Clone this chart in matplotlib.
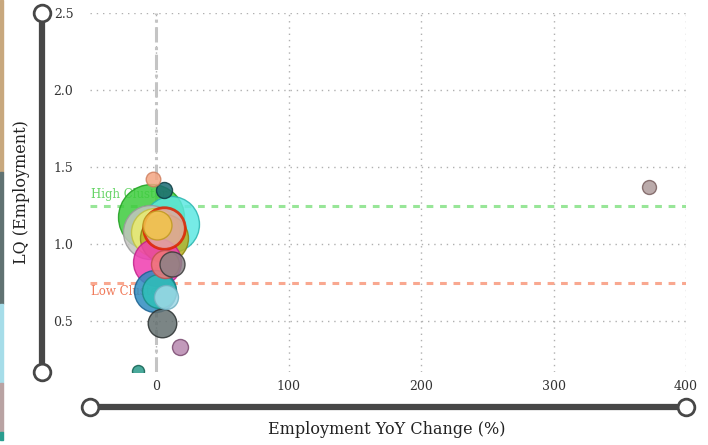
import matplotlib
matplotlib.use("Agg")
import matplotlib.pyplot as plt
import matplotlib.transforms as mtransforms
from matplotlib.patches import Rectangle

# Industry bubbles: employment YoY change (%), location quotient, bubble size
yoy_change = [-2.5, 6.0, -3.8, 11.3, -4.5, -0.8, 6.0, 0.4, 5.7, -1.1,
              2.3, 0.8, 4.3, 6.8, 12.0, 7.3, 18.1, -14.0, 372.0]
lq_employment = [1.42, 1.35, 1.175, 1.13, 1.078, 1.08, 1.04, 0.883, 1.106, 0.695,
                 0.695, 1.127, 0.49, 0.87, 0.87, 0.66, 0.33, 0.177, 1.37]
bubble_size = [110, 133, 2256, 1625, 1510, 1193, 1193, 1190, 896, 913,
               598, 435, 423, 406, 324, 298, 133, 75, 101]
face_colors = ["#f4a582", "#1b6b73", "#3dcc3d", "#5ee8e2", "#c4c4c0", "#ecec70",
               "#b8b020", "#f03cb0", "#e0a8a0", "#2f8cc0", "#2ec0b8", "#f2c44a",
               "#647070", "#f07878", "#8a8286", "#9fd9e6", "#b888b0", "#2a9a8a",
               "#b09c9c"]
edge_colors = ["#d08060", "#0d3d42", "#1e9e1e", "#2ab5b0", "#999999", "#c0c040",
               "#8a8410", "#c0208a", "#dd2200", "#1a6090", "#1a8a85", "#c09a20",
               "#2a3030", "#c05050", "#3a3a3a", "#70b0c0", "#7a4a70", "#106050",
               "#7a6060"]
edge_widths = [1, 1, 1, 1, 1, 1, 1, 1, 2, 1, 1, 1, 1, 1, 1, 1, 1, 1, 1]

high_cluster = 1.25
low_cluster = 0.75
x_ticks = [0, 100, 200, 300, 400]
y_ticks = [0.5, 1.0, 1.5, 2.0, 2.5]

SERIF = "DejaVu Serif"
AXIS_COLOR = "#474747"

fig = plt.figure(figsize=(7.08, 4.45), dpi=100)
ax = fig.add_axes([90 / 708, 1 - 372 / 445, 596 / 708, 359 / 445])

ax.set_xlim(-50, 400)
ax.set_ylim(0.17, 2.5)

# Gridlines
ax.set_xticks(x_ticks)
ax.set_yticks(y_ticks)
ax.grid(True, linestyle=(0, (1, 3.5)), color="#b0b0b0", linewidth=1.0, zorder=0)
ax.set_axisbelow(True)

# Zero line
ax.axvline(0, color="#c4c4c4", linewidth=2.2, linestyle=(0, (5, 1.5, 1, 1.5)), zorder=1)

# Cluster thresholds
ax.axhline(high_cluster, color="#98e698", linewidth=2.2, linestyle=(0, (2.2, 2.2)), zorder=1)
ax.axhline(low_cluster, color="#f9a890", linewidth=2.2, linestyle=(0, (2.2, 2.2)), zorder=1)
ax.text(-49.5, high_cluster + 0.03, "High Cluster", color="#66d466", fontsize=8.5,
        family=SERIF, va="bottom", ha="left", zorder=1.5)
ax.text(-49.5, low_cluster - 0.015, "Low Cluster", color="#f07a5a", fontsize=8.5,
        family=SERIF, va="top", ha="left", zorder=1.5)

# Bubbles, largest first so small ones stay visible
order = sorted(range(len(bubble_size)), key=lambda i: -bubble_size[i])
for i in order:
    ax.scatter(yoy_change[i], lq_employment[i], s=bubble_size[i],
               facecolor=face_colors[i], edgecolor=edge_colors[i],
               linewidth=edge_widths[i], alpha=0.85, zorder=2)

# Hide default spines and tick marks
for sp in ax.spines.values():
    sp.set_visible(False)
ax.tick_params(axis="both", length=0, labelsize=9, colors="#333333")
ax.tick_params(axis="y", pad=12)
ax.tick_params(axis="x", pad=6)
for lab in ax.get_xticklabels() + ax.get_yticklabels():
    lab.set_family(SERIF)

# Detached axis bars with open circle ends
left_tr = mtransforms.offset_copy(ax.transAxes, fig=fig, x=-48, y=0, units="dots")
bottom_tr = mtransforms.offset_copy(ax.transAxes, fig=fig, x=0, y=-35, units="dots")
for tr, xs, ys in [(left_tr, [0, 0], [0, 1]), (bottom_tr, [0, 1], [0, 0])]:
    ax.plot(xs, ys, transform=tr, color=AXIS_COLOR, linewidth=4.5,
            solid_capstyle="butt", clip_on=False, zorder=5)
    ax.plot(xs, ys, transform=tr, linestyle="none", marker="o", markersize=12,
            markerfacecolor="white", markeredgecolor=AXIS_COLOR,
            markeredgewidth=2, clip_on=False, zorder=6)

fig.text(22 / 708, 1 - 192 / 445, "LQ (Employment)", rotation=90, family=SERIF,
         fontsize=11.5, color="#222222", ha="center", va="center")
fig.text(387 / 708, 1 - 430 / 445, "Employment YoY Change (%)", family=SERIF,
         fontsize=11.5, color="#222222", ha="center", va="center")

# Thin colour strip along the left edge
strip = [(0, 172, "#c8a87e"), (172, 304, "#607272"), (304, 383, "#a6dde9"),
         (383, 432, "#b9a3a3"), (432, 440, "#2a9d8f")]
for top, bot, col in strip:
    fig.patches.append(Rectangle((0, 1 - bot / 445), 3 / 708, (bot - top) / 445,
                                 transform=fig.transFigure, color=col, zorder=0))

fig.savefig("out.png", dpi=100)
